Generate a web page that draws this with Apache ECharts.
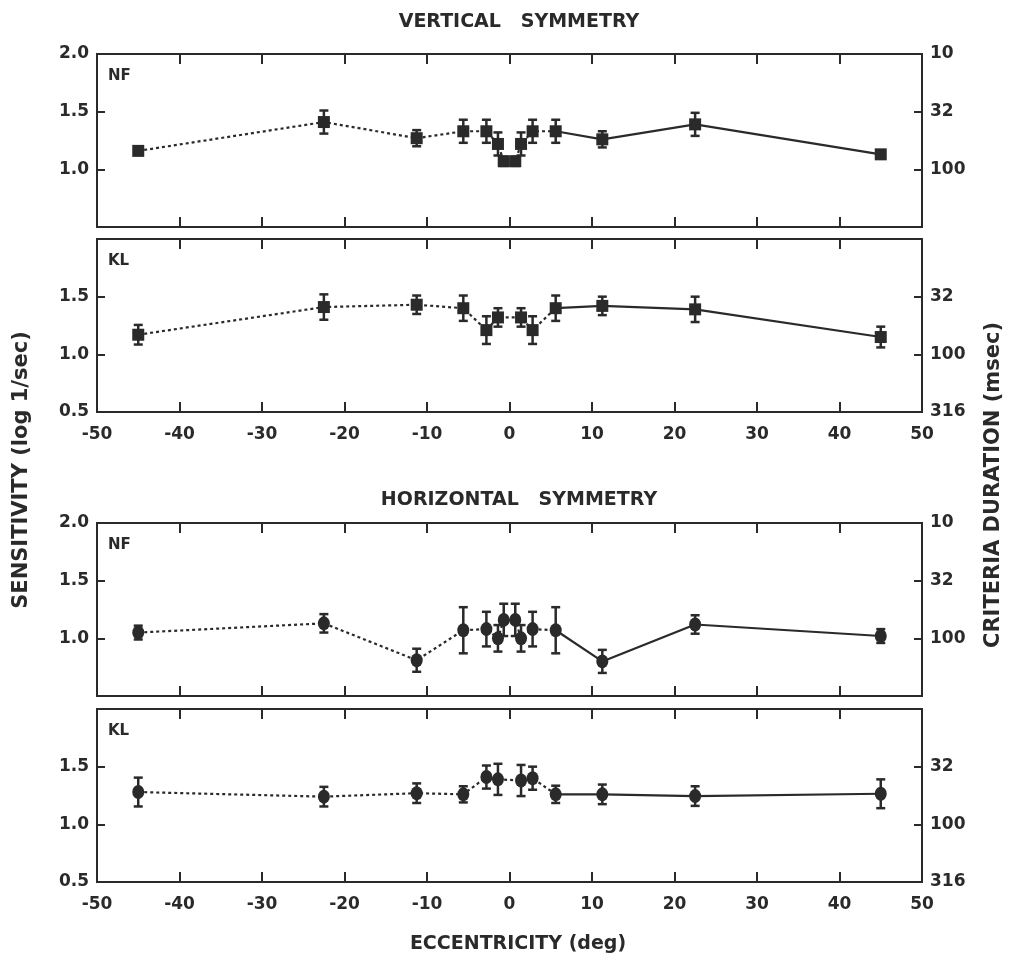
<!DOCTYPE html>
<html>
<head>
<meta charset="utf-8">
<script src="https://cdn.jsdelivr.net/npm/echarts@6/dist/echarts.min.js"></script>
<style>
  html, body { margin: 0; background: #fff; }
  #chart { width: 1011px; height: 962px; }
</style>
</head>
<body>
<div id="chart"></div>
<script>
// eccentricity (deg) and sensitivity (log 1/sec), mean and error per panel
const vNfEcc = [-45, -22.5, -11.25, -5.6, -2.8, -1.4, -0.7, 0.7, 1.4, 2.8, 5.6, 11.25, 22.5, 45];
const vNfSens = [1.16, 1.41, 1.27, 1.33, 1.33, 1.22, 1.07, 1.07, 1.22, 1.33, 1.33, 1.26, 1.39, 1.13];
const vNfErr = [0.03, 0.1, 0.07, 0.1, 0.1, 0.1, 0.04, 0.04, 0.1, 0.1, 0.1, 0.07, 0.1, 0.03];

const vKlEcc = [-45, -22.5, -11.25, -5.6, -2.8, -1.4, 1.4, 2.8, 5.6, 11.25, 22.5, 45];
const vKlSens = [1.17, 1.41, 1.43, 1.40, 1.21, 1.32, 1.32, 1.21, 1.40, 1.42, 1.39, 1.15];
const vKlErr = [0.085, 0.11, 0.08, 0.11, 0.12, 0.08, 0.08, 0.12, 0.11, 0.08, 0.11, 0.09];

const hNfEcc = [-45, -22.5, -11.25, -5.6, -2.8, -1.4, -0.7, 0.7, 1.4, 2.8, 5.6, 11.25, 22.5, 45];
const hNfSens = [1.05, 1.13, 0.81, 1.07, 1.08, 1.00, 1.16, 1.16, 1.00, 1.08, 1.07, 0.80, 1.12, 1.02];
const hNfErr = [0.06, 0.08, 0.1, 0.2, 0.15, 0.115, 0.14, 0.14, 0.115, 0.15, 0.2, 0.1, 0.08, 0.06];

const hKlEcc = [-45, -22.5, -11.25, -5.6, -2.8, -1.4, 1.4, 2.8, 5.6, 11.25, 22.5, 45];
const hKlSens = [1.28, 1.24, 1.27, 1.26, 1.41, 1.39, 1.38, 1.40, 1.26, 1.26, 1.245, 1.265];
const hKlErr = [0.125, 0.085, 0.085, 0.07, 0.1, 0.135, 0.135, 0.1, 0.075, 0.085, 0.085, 0.125];

const xTickValues = [-50, -40, -30, -20, -10, 0, 10, 20, 30, 40, 50];
const leftHidden = [0.5, 2.0, 0.5, 2.0];   // left tick label not printed, per panel
const rightHidden = [0.5, 2.0, 0.5, 2.0];
const panelNames = ['NF', 'KL', 'NF', 'KL'];
const splitAt = 5.6; // dotted up to here, solid from here

const panels = [
  { ecc: vNfEcc, sens: vNfSens, err: vNfErr, mark: 'rect' },
  { ecc: vKlEcc, sens: vKlSens, err: vKlErr, mark: 'rect' },
  { ecc: hNfEcc, sens: hNfSens, err: hNfErr, mark: 'circle' },
  { ecc: hKlEcc, sens: hKlSens, err: hKlErr, mark: 'circle' },
];

const ink = '#2a2a2a';
const font = 'DejaVu Sans';
const tops = [54, 239, 523, 709];
const panelH = 173;

const grid = [], xAxis = [], yAxis = [], series = [], graphic = [];

panels.forEach((p, i) => {
  grid.push({ left: 97, right: 89, top: tops[i], height: panelH, show: true,
    borderColor: ink, borderWidth: 2, backgroundColor: 'transparent' });

  const xBase = {
    gridIndex: i, type: 'value', min: -50, max: 50, interval: 10,
    axisLine: { show: true, onZero: false, lineStyle: { color: ink, width: 2 } },
    axisTick: { show: true, inside: true, length: 10, lineStyle: { color: ink, width: 2 } },
    splitLine: { show: false },
  };
  xAxis.push(Object.assign({}, xBase, {
    position: 'bottom',
    axisLabel: { show: i % 2 === 1, color: ink, fontFamily: font, fontWeight: 'bold',
      fontSize: 17, margin: 14,
      formatter: v => xTickValues.includes(v) ? String(v) : '' },
  }));
  xAxis.push(Object.assign({}, xBase, { position: 'top', axisLabel: { show: false } }));

  const yBase = {
    gridIndex: i, type: 'value', min: 0.5, max: 2.0, interval: 0.5,
    axisLine: { show: true, onZero: false, lineStyle: { color: ink, width: 2 } },
    axisTick: { show: true, inside: true, length: 8, lineStyle: { color: ink, width: 2 } },
    splitLine: { show: false },
  };
  yAxis.push(Object.assign({}, yBase, {
    position: 'left',
    axisLabel: { color: ink, fontFamily: font, fontWeight: 'bold', fontSize: 17, margin: 8,
      formatter: v => Math.abs(v - leftHidden[i]) < 1e-6 ? '' : v.toFixed(1) },
  }));
  yAxis.push(Object.assign({}, yBase, {
    position: 'right',
    axisLabel: { color: ink, fontFamily: font, fontWeight: 'bold', fontSize: 17, margin: 8,
      formatter: v => Math.abs(v - rightHidden[i]) < 1e-6 ? '' : String(Math.round(Math.pow(10, 3 - v))) },
  }));

  const xi = i * 2, yi = i * 2;
  const pts = p.ecc.map((x, k) => [x, p.sens[k], p.err[k]]);

  series.push({
    type: 'custom', xAxisIndex: xi, yAxisIndex: yi, z: 3,
    data: pts,
    renderItem: (params, api) => {
      const x = api.value(0), m = api.value(1), e = api.value(2);
      const t = api.coord([x, m + e]), b = api.coord([x, m - e]);
      const cw = 4.5;
      const st = { stroke: ink, lineWidth: 2.5 };
      return { type: 'group', children: [
        { type: 'line', shape: { x1: t[0], y1: t[1], x2: b[0], y2: b[1] }, style: st },
        { type: 'line', shape: { x1: t[0] - cw, y1: t[1], x2: t[0] + cw, y2: t[1] }, style: st },
        { type: 'line', shape: { x1: b[0] - cw, y1: b[1], x2: b[0] + cw, y2: b[1] }, style: st },
      ] };
    },
  });
  series.push({
    type: 'line', xAxisIndex: xi, yAxisIndex: yi, z: 2, symbol: 'none',
    data: pts.filter(d => d[0] <= splitAt).map(d => [d[0], d[1]]),
    lineStyle: { color: ink, width: 2.2, type: [3, 3] },
  });
  series.push({
    type: 'line', xAxisIndex: xi, yAxisIndex: yi, z: 2, symbol: 'none',
    data: pts.filter(d => d[0] >= splitAt).map(d => [d[0], d[1]]),
    lineStyle: { color: ink, width: 2.2 },
  });
  series.push({
    type: 'scatter', xAxisIndex: xi, yAxisIndex: yi, z: 4,
    symbol: p.mark, symbolSize: p.mark === 'rect' ? [12, 12] : [12, 14],
    data: pts.map(d => [d[0], d[1]]),
    itemStyle: { color: ink, opacity: 1 },
  });

  graphic.push({ type: 'text', left: 108, top: tops[i] + 15,
    style: { text: panelNames[i], font: 'bold 15px "DejaVu Sans"', fill: ink } });
});

const textStyle = sz => ({ font: 'bold ' + sz + 'px "DejaVu Sans"', fill: ink, align: 'center', verticalAlign: 'middle' });
graphic.push(
  { type: 'text', x: 519, y: 22, style: Object.assign({ text: 'VERTICAL   SYMMETRY' }, textStyle(19)) },
  { type: 'text', x: 519, y: 500, style: Object.assign({ text: 'HORIZONTAL   SYMMETRY' }, textStyle(19)) },
  { type: 'text', x: 518, y: 944, style: Object.assign({ text: 'ECCENTRICITY (deg)' }, textStyle(19)) },
  { type: 'text', x: 22, y: 470, rotation: Math.PI / 2, style: Object.assign({ text: 'SENSITIVITY (log 1/sec)' }, textStyle(21)) },
  { type: 'text', x: 994, y: 485, rotation: Math.PI / 2, style: Object.assign({ text: 'CRITERIA DURATION (msec)' }, textStyle(21)) }
);

const chart = echarts.init(document.getElementById('chart'));
chart.setOption({
  animation: false,
  backgroundColor: '#fff',
  grid, xAxis, yAxis, series, graphic,
});
window.addEventListener('resize', () => chart.resize());
</script>
</body>
</html>
